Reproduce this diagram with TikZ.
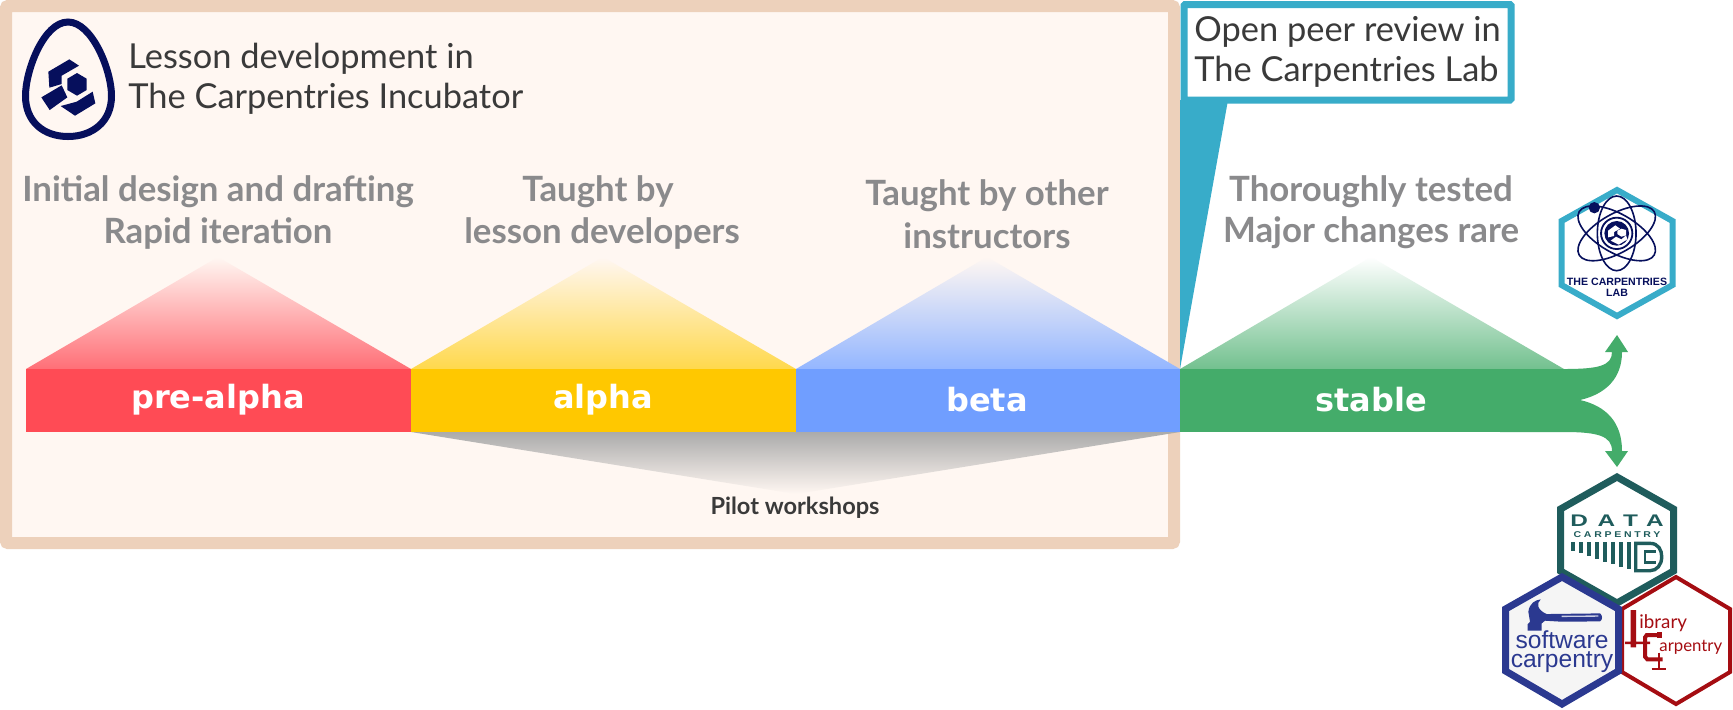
\documentclass[tikz,border=0pt]{standalone}
\usepackage{fontspec}
\usepackage{graphicx}
\setmainfont{Lato}
\newfontfamily\bandfont{DejaVu Sans}[Scale=1]
\newfontfamily\heros{Liberation Sans}
\usetikzlibrary{shadings}
\definecolor{bgcream}{HTML}{FFF7F2}
\definecolor{peach}{HTML}{EDD1BB}
\definecolor{labblue}{HTML}{38ACC9}
\definecolor{navy}{HTML}{060F5C}
\definecolor{txtdark}{HTML}{3A3A3A}
\definecolor{txtgray}{HTML}{8A8A8C}
\definecolor{redb}{HTML}{FF4B55}
\definecolor{yelb}{HTML}{FFC800}
\definecolor{blub}{HTML}{709EFF}
\definecolor{grnb}{HTML}{44AC6A}
\definecolor{dcteal}{HTML}{1F5C5C}
\definecolor{swblue}{HTML}{2B3990}
\definecolor{lcred}{HTML}{A50D12}
\tikzset{
  x=0.5pt,y=-0.5pt,
  bandbox/.style={inner sep=0pt,minimum height=31.5pt,text=white},
  bandlabel/.style={inner sep=0pt,text=white,font=\bandfont\bfseries\fontsize{16}{18}\selectfont},
  headtxt/.style={inner sep=0pt,anchor=west,text=txtdark,font=\fontsize{17.2}{20}\selectfont},
  graytxt/.style={inner sep=0pt,text=txtgray,font=\bfseries\fontsize{17.4}{20}\selectfont},
  hexline/.style={line width=#1,line join=miter,fill=white},
}
\begin{document}
\begin{tikzpicture}
\useasboundingbox (0,0) rectangle (1733,709);
\fill[white] (0,0) rectangle (1733,709);
% incubator box
\draw[fill=bgcream,draw=peach,line width=6pt,rounded corners=1pt] (6,6) rectangle (1174,543);
% callout
\fill[labblue] (1180,100) -- (1228,100) -- (1180,369) -- cycle;
\draw[fill=white,draw=labblue,line width=3.5pt,rounded corners=0.5pt] (1184,4.5) rectangle (1511,100);
\node[headtxt] (labl1) at (1194,32) {Open peer review in};
\node[headtxt] (labl2) at (1194,72) {The Carpentries Lab};
% egg
\draw[navy,line width=3.5pt] (68,22)
  .. controls (44,22) and (25.5,70) .. (25.5,96)
  .. controls (25.5,122) and (44,136.5) .. (68,136.5)
  .. controls (92,136.5) and (111.5,122) .. (111.5,96)
  .. controls (111.5,70) and (92,22) .. cycle;
\begin{scope}[shift={(10,10)},x=0.1667pt,y=-0.1667pt]
  \fill[navy] (115,185) -- (178,148) -- (207,167) -- (155,197) -- (155,222) -- (118,233) -- cycle;
  \fill[navy] (94,262) -- (155,226) -- (172,262) -- (119,300) -- cycle;
  \fill[navy] (152,288) -- (200,275) -- (248,245) -- (256,280) -- (195,317) -- cycle;
  \fill[navy] (201,189) -- (230,206) -- (230,240) -- (201,257) -- (172,240) -- (172,206) -- cycle;
\end{scope}
\node[headtxt] (inc1) at (128,59) {Lesson development in};
\node[headtxt] (inc2) at (128,99) {The Carpentries Incubator};
% triangles
\shade[top color=bgcream,bottom color=redb!80!white] (218,257) -- (411,369) -- (26,369) -- cycle;
\shade[top color=bgcream,bottom color=yelb!70!white] (603,257) -- (796,369) -- (411,369) -- cycle;
\shade[top color=bgcream,bottom color=blub!75!white] (987,257) -- (1180,369) -- (796,369) -- cycle;
\shade[top color=white,bottom color=grnb!75!white] (1371,257) -- (1564,369) -- (1180,369) -- cycle;
% funnel
\shade[top color=black!33,bottom color=bgcream] (411,432) -- (1180,432) -- (796,494) -- cycle;
% green fork
\fill[grnb] (1500,369) -- (1564,369)
  .. controls (1598,369) and (1612,366) .. (1612,352)
  -- (1605,352) -- (1617,335) -- (1628,352) -- (1622,352)
  .. controls (1622,378) and (1606,394) .. (1580,400)
  .. controls (1606,406) and (1622,422) .. (1622,451)
  -- (1628,451) -- (1617,467) -- (1605,451) -- (1612,451)
  .. controls (1612,436) and (1598,432) .. (1564,432)
  -- (1500,432) -- cycle;
% bands
\node[bandbox,fill=redb,minimum width=192.5pt] (prebox) at (218.5,400.5) {};
\node[bandbox,fill=yelb,minimum width=192.5pt] (alphabox) at (603.5,400.5) {};
\node[bandbox,fill=blub,minimum width=192pt] (betabox) at (988,400.5) {};
\node[bandbox,fill=grnb,minimum width=192pt] (stablebox) at (1372,400.5) {};
\node[bandlabel] (pre) at (218,400) {pre-alpha};
\node[bandlabel] (alpha) at (603,400) {alpha};
\node[bandlabel] (beta) at (987,399.5) {beta};
\node[bandlabel] (stable) at (1371,399.5) {stable};
% descriptions
\node[graytxt] (d1a) at (218,192) {Initial design and drafting};
\node[graytxt] (d1b) at (218,233) {Rapid iteration};
\node[graytxt] (d2a) at (598,192) {Taught by};
\node[graytxt] (d2b) at (602,233) {lesson developers};
\node[graytxt] (d3a) at (987,196) {Taught by other};
\node[graytxt] (d3b) at (987,236) {instructors};
\node[graytxt] (d4a) at (1371,192) {Thoroughly tested};
\node[graytxt] (d4b) at (1371,233) {Major changes rare};
\node[inner sep=0pt,text=txtdark,font=\bfseries\fontsize{11.8}{13}\selectfont] (pilot) at (795,508) {Pilot workshops};
% lab hex
\draw[hexline=3pt,draw=labblue] (1617,190) -- (1672.5,221) -- (1672.5,285) -- (1617,316) -- (1561.5,285) -- (1561.5,221) -- cycle;
\begin{scope}[shift={(1540,180)},x=0.1667pt,y=-0.1667pt]
  \foreach \r/\a in {130/30,130/-30,112/90}
    \draw[navy,line width=0.8pt,rotate around={\a:(230,160)}] (230,160) ellipse [x radius=\r,y radius=58];
  \fill[white] (230,160) circle (52);
  \draw[navy,line width=0.9pt] (230,160) circle (47);
  \fill[navy] (230,160) circle (37);
  \fill[white] (204,152) -- (226,136) -- (240,146) -- (222,156) -- (222,168) -- (204,172) -- cycle;
  \fill[white] (212,182) -- (228,170) -- (244,178) -- (258,166) -- (262,178) -- (236,194) -- cycle;
  \fill[white] (244,146) -- (258,150) -- (258,166) -- (244,170) -- (232,162) -- (232,152) -- cycle;
  \fill[navy] (163,83) circle (17);
\end{scope}
\node[inner sep=0pt,text=navy,font=\heros\bfseries\fontsize{5.3}{6}\selectfont] (lab1) at (1617,282) {THE CARPENTRIES};
\node[inner sep=0pt,text=navy,font=\heros\bfseries\fontsize{5.3}{6}\selectfont] (lab2) at (1617,293) {LAB};
% library hex
\draw[hexline=2pt,draw=lcred] (1676,577) -- (1730,609) -- (1730,672) -- (1676,704) -- (1622,672) -- (1622,609) -- cycle;
% data hex
\draw[hexline=3.5pt,draw=dcteal] (1617,477) -- (1673.5,509) -- (1673.5,571) -- (1617,603) -- (1560.5,571) -- (1560.5,509) -- cycle;
% software hex
\draw[hexline=3.5pt,draw=swblue,fill=black!4] (1562,577) -- (1618.5,609) -- (1618.5,671) -- (1562,704) -- (1505.5,671) -- (1505.5,609) -- cycle;
% data logo
\node[inner sep=0pt,text=dcteal,font=\heros\bfseries\fontsize{8.4}{10}\selectfont] (dct) at (1617,521) {\scalebox{1.45}[1]{\addfontfeature{LetterSpace=40}DATA}};
\node[inner sep=0pt,text=dcteal,font=\heros\bfseries\fontsize{4.2}{5}\selectfont] (dcc) at (1617,534.5) {\scalebox{1.25}[1]{\addfontfeature{LetterSpace=26}CARPENTRY}};
\begin{scope}[shift={(1480,460)},x=0.1667pt,y=-0.1667pt]
  \foreach \i/\b in {0/272,1/280,2/288,3/297,4/305,5/313,6/321,7/326}
    \fill[dcteal] ({272+24*\i},245) rectangle ({285+24*\i},\b);
  \draw[dcteal,line width=1.7pt] (467,250) -- (510,250) .. controls (535,250) and (545,270) .. (545,290) .. controls (545,315) and (530,332) .. (510,332) -- (467,332) -- cycle;
  \draw[dcteal,line width=1.4pt] (527,275) -- (495,275) -- (495,307) -- (527,307);
  % hammer
  \fill[swblue] (145,455) .. controls (148,430) and (165,420) .. (182,418)
     .. controls (168,430) and (172,450) .. (200,462) -- (360,460)
     .. controls (368,465) and (368,480) .. (360,484) -- (245,485) -- (195,482)
     -- (185,490) -- (185,512) -- (143,512) -- (143,492) -- (150,485) -- cycle;
  \fill[white!75!swblue] (245,467) -- (355,466) -- (355,470) -- (245,471) -- cycle;
  % library ruler
  \fill[lcred] (452,450) -- (468,450) -- (468,545) -- (510,545) -- (510,552) -- (468,552) -- (468,562) -- (452,562) -- (452,552) -- (435,552) -- (435,545) -- (452,545) -- cycle;
  % clamp
  \draw[lcred,line width=2pt] (545,525) -- (500,525) -- (495,532) -- (495,590) -- (502,598) -- (548,598);
  \fill[lcred] (530,516) rectangle (545,535);
  \draw[lcred,line width=0.8pt] (537,578) -- (537,626) (515,626) -- (558,626);
\end{scope}
\node[inner sep=0pt,anchor=base,text=swblue,font=\heros\fontsize{12.3}{14}\selectfont] (sw1) at (1562,648) {software};
\node[inner sep=0pt,anchor=base,text=swblue,font=\heros\fontsize{12.3}{14}\selectfont] (sw2) at (1562,667) {carpentry};
\node[inner sep=0pt,anchor=west,text=lcred,font=\fontsize{9.4}{11}\selectfont] (lc1) at (1639,623) {ibrary};
\node[inner sep=0pt,anchor=west,text=lcred,font=\fontsize{8.4}{10}\selectfont] (lc2) at (1659,647) {arpentry};
\end{tikzpicture}
\end{document}
